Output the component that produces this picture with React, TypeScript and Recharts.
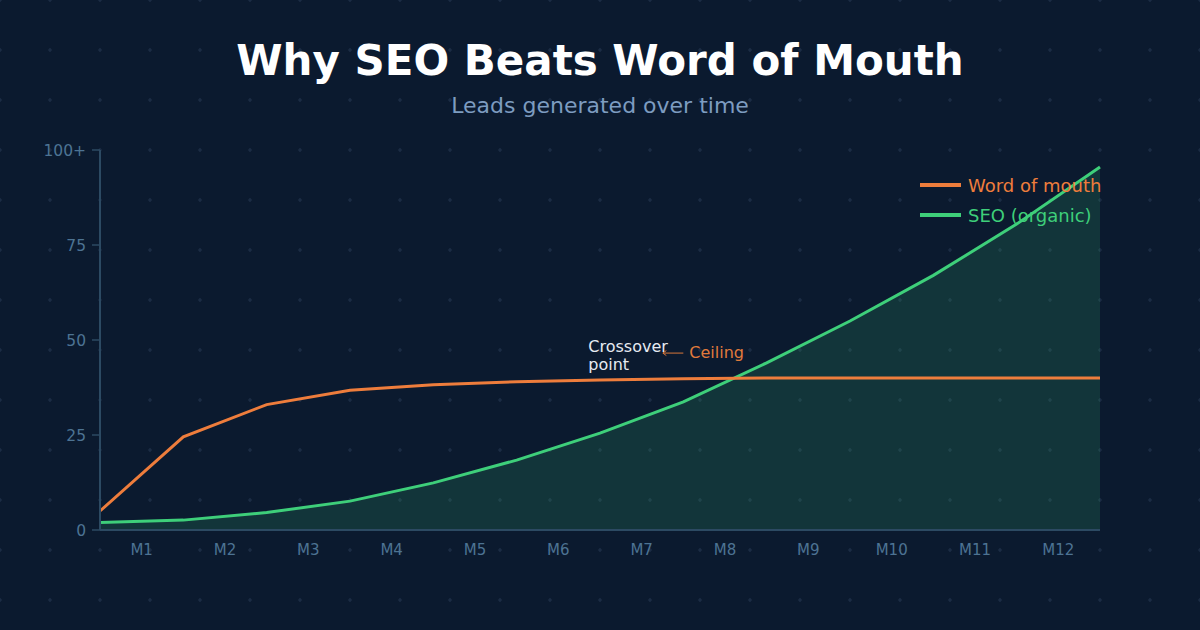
import React from 'react';
import { ComposedChart, Line, Area, XAxis, YAxis, ReferenceDot } from 'recharts';

const months = ['M1', 'M2', 'M3', 'M4', 'M5', 'M6', 'M7', 'M8', 'M9', 'M10', 'M11', 'M12'];
const monthTicks = [0.5, 1.5, 2.5, 3.5, 4.5, 5.5, 6.5, 7.5, 8.5, 9.5, 10.5, 11.5];
const timeSteps = [0, 1, 2, 3, 4, 5, 6, 7, 8, 9, 10, 11, 12];
const wordOfMouth = [5, 24.5, 33, 36.8, 38.2, 39.0, 39.5, 39.8, 40, 40, 40, 40, 40];
const seoOrganic = [2, 2.6, 4.6, 7.6, 12.4, 18.4, 25.5, 33.7, 44, 55, 67, 80.5, 95.5];
const yTicks = [0, 25, 50, 75, 100];

const data = timeSteps.map((t, i) => ({ t, wom: wordOfMouth[i], seo: seoOrganic[i] }));

const BG = '#0b1a2f';
const ORANGE = '#ee7d3c';
const GREEN = '#3ecf7a';
const AXIS = '#2c4a63';
const TICK = '#4d7393';
const FONT = '"DejaVu Sans", sans-serif';

const legendItems = [
  { label: 'Word of mouth', color: ORANGE },
  { label: 'SEO (organic)', color: GREEN },
];

const LegendBox = () => (
  <div style={{ position: 'absolute', left: 920, top: 170, fontFamily: FONT }}>
    {legendItems.map((it) => (
      <div key={it.label} style={{ display: 'flex', alignItems: 'center', height: 30 }}>
        <div style={{ width: 41, height: 4, background: it.color, marginRight: 7 }} />
        <span style={{ color: it.color, fontSize: 18, whiteSpace: 'nowrap' }}>{it.label}</span>
      </div>
    ))}
  </div>
);

const AnnotationLabel = (props: any) => {
  const vb = props.viewBox || {};
  const x = vb.cx !== undefined ? vb.cx : vb.x;
  const y = vb.cy !== undefined ? vb.cy : vb.y;
  return (
    <g fontFamily={FONT}>
      <text x={x} y={y + 6} fill="#e6ebf2" fontSize={16}>Crossover</text>
      <text x={x} y={y + 24} fill="#e6ebf2" fontSize={16}>point</text>
      <line x1={x + 75} y1={y + 7} x2={x + 95} y2={y + 7} stroke="#d9773a" strokeWidth={1} />
      <path d={`M ${x + 78} ${y + 4.5} L ${x + 74.5} ${y + 7} L ${x + 78} ${y + 9.5}`} stroke="#d9773a" strokeWidth={1} fill="none" />
      <text x={x + 101} y={y + 12} fill="#e07a3c" fontSize={16}>Ceiling</text>
    </g>
  );
};

const DotGrid = () => (
  <svg width={1200} height={630} style={{ position: 'absolute', left: 0, top: 0 }}>
    <defs>
      <pattern id="plus" width={50} height={50} patternUnits="userSpaceOnUse" x={-25} y={-25}>
        <path d="M 23 25 L 27 25 M 25 23 L 25 27" stroke="#1f3049" strokeWidth={1.2} />
      </pattern>
    </defs>
    <rect width={1200} height={630} fill={BG} />
    <rect width={1200} height={630} fill="url(#plus)" />
  </svg>
);

export default function App() {
  return (
    <div style={{ position: 'fixed', left: 0, top: 0, width: 1200, height: 630, background: BG, overflow: 'hidden', fontFamily: FONT }}>
      <DotGrid />
      <div style={{ position: 'absolute', left: 0, top: 35, width: 1200, textAlign: 'center', color: '#ffffff', fontSize: 42, fontWeight: 'bold', lineHeight: '52px' }}>
        Why SEO Beats Word of Mouth
      </div>
      <div style={{ position: 'absolute', left: 0, top: 92, width: 1200, textAlign: 'center', color: '#7d9cc0', fontSize: 22, lineHeight: '28px' }}>
        Leads generated over time
      </div>
      <div style={{ position: 'absolute', left: 0, top: 0 }}>
        <ComposedChart width={1200} height={630} data={data} margin={{ top: 150, right: 100, bottom: 70, left: 40 }}>
          <XAxis
            type="number"
            dataKey="t"
            domain={[0, 12]}
            ticks={monthTicks}
            tickFormatter={(v: number) => months[Math.floor(v)]}
            axisLine={{ stroke: AXIS, strokeWidth: 2 }}
            tickLine={false}
            tick={{ fill: TICK, fontSize: 15, fontFamily: FONT }}
            height={30}
            tickMargin={8}
            interval={0}
          />
          <YAxis
            type="number"
            domain={[0, 100]}
            ticks={yTicks}
            tickFormatter={(v: number) => (v === 100 ? '100+' : String(v))}
            axisLine={{ stroke: AXIS, strokeWidth: 2 }}
            tickLine={{ stroke: AXIS, strokeWidth: 1.5 }}
            tickSize={8}
            tickMargin={6}
            tick={{ fill: TICK, fontSize: 15.5, fontFamily: FONT }}
            width={60}
            interval={0}
          />
          <Line type="linear" dataKey="wom" stroke={ORANGE} strokeWidth={3} dot={false} activeDot={false} isAnimationActive={false} />
          <Area type="linear" dataKey="seo" stroke={GREEN} strokeWidth={3} fill={GREEN} fillOpacity={0.15} dot={false} activeDot={false} isAnimationActive={false} />
          <ReferenceDot x={5.86} y={48.4} r={0} fill="none" stroke="none" label={<AnnotationLabel />} />
        </ComposedChart>
      </div>
      <LegendBox />
    </div>
  );
}
